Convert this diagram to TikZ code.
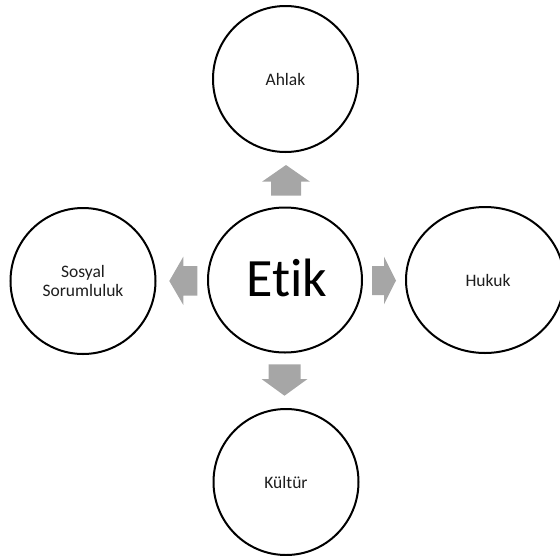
\documentclass[tikz,border=0pt]{standalone}
\usepackage{fontspec}
\setmainfont{Carlito}[Ligatures={NoCommon,NoRare}]
\usetikzlibrary{shapes.geometric}
\definecolor{arrowgray}{RGB}{166,166,166}
\definecolor{txt}{RGB}{30,30,30}
\tikzset{
  bubble/.style={draw=black, line width=2pt, fill=white, ellipse, inner sep=0pt, text=txt, font=\fontsize{17.5}{18.5}\selectfont, align=center},
  blockarrow/.style={fill=arrowgray, draw=none},
}
\begin{document}
\begin{tikzpicture}[x=1pt,y=-1pt]
\useasboundingbox (0,0) rectangle (560,555);
\begin{scope}
\clip (0,0) rectangle (560,555);
\node[bubble, minimum width=154pt, minimum height=145pt] (etik) at (285,280) {};
\node[text=black, font=\fontsize{54}{60}\selectfont, inner sep=0pt] (etiklabel) at (287,278) {Et\kern0pt ik};
\node[bubble, minimum width=145pt, minimum height=146pt] (ahlak) at (285.5,79) {Ahlak};
\node[bubble, minimum width=145pt, minimum height=146pt] (kultur) at (286,482) {Kültür};
\node[bubble, minimum width=145pt, minimum height=146pt] (sosyal) at (83,281) {Sosyal\\Sorumluluk};
\node[bubble, minimum width=158pt, minimum height=146pt] (hukuk) at (485,280) {\hspace*{6pt}Hukuk};
\end{scope}
% up arrow
\coordinate (up) at (286,195.7);
\fill[blockarrow] (up) ++(-15,0) -- ++(0,-14) -- ++(-9,0) -- (286,165) -- ++(24,16.7) -- ++(-9,0) -- ++(0,14) -- cycle;
% down arrow
\coordinate (dn) at (284.5,364.3);
\fill[blockarrow] (dn) ++(-16,0) -- ++(0,14.7) -- ++(-7,0) -- (284.5,395.7) -- ++(23,-16.7) -- ++(-7,0) -- ++(0,-14.7) -- cycle;
% left arrow
\coordinate (lf) at (197.3,281);
\fill[blockarrow] (lf) ++(0,-15) -- ++(-14,0) -- ++(0,-9.3) -- (169.3,281) -- ++(14,24) -- ++(0,-9.3) -- ++(14,0) -- cycle;
% right arrow
\coordinate (rt) at (372,280.5);
\fill[blockarrow] (rt) ++(0,-14.5) -- ++(12,0) -- ++(0,-9.3) -- (396,280.5) -- ++(-12,23.8) -- ++(0,-9.3) -- ++(-12,0) -- cycle;
\end{tikzpicture}
\end{document}
